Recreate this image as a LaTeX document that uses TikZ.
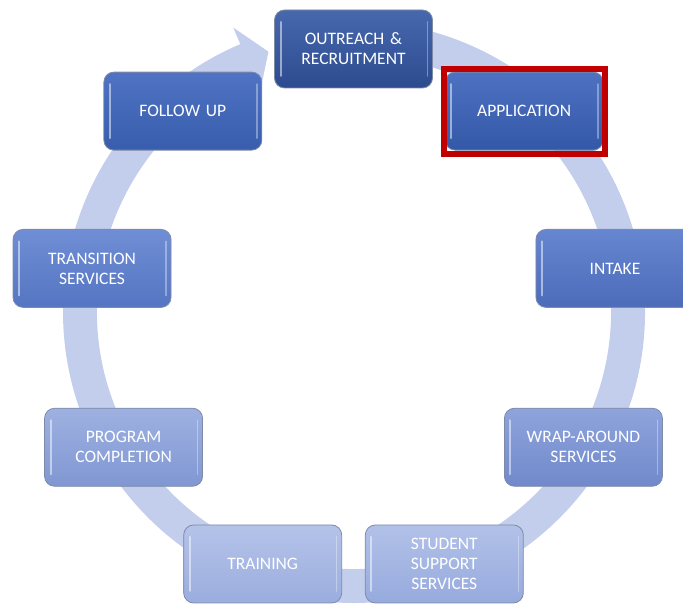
\documentclass[tikz,border=0pt]{standalone}
\usepackage{fontspec}
\setmainfont{Carlito}
\usepackage{xcolor}
\usepackage{tikz}
\usetikzlibrary{shapes,arrows,positioning,calc}

\definecolor{ringblue}{HTML}{C3CDEC}
\definecolor{framered}{HTML}{C00000}
\definecolor{edgegray}{HTML}{7F8AA8}

\begin{document}
\begin{tikzpicture}[x=1pt, y=1pt]
    \tikzstyle{stage} = [rectangle, draw=edgegray, line width=0.8pt, rounded corners=10pt, minimum width=158pt, minimum height=78pt, text width=140pt, align=center, text=white, font=\fontsize{17.5}{20}\selectfont,
        path picture={\draw[white, opacity=0.5, line width=2pt, line cap=round] ([xshift=6pt, yshift=-12pt]path picture bounding box.north west) -- ([xshift=6pt, yshift=12pt]path picture bounding box.south west);
                      \draw[white, opacity=0.35, line width=1.6pt, line cap=round] ([xshift=-5pt, yshift=-12pt]path picture bounding box.north east) -- ([xshift=-5pt, yshift=12pt]path picture bounding box.south east);}]
    \tikzstyle{ring} = [fill=ringblue]
    \tikzstyle{chosen} = [draw=framered, line width=6pt]

    \useasboundingbox (0,0) rectangle (683,603);

    % cycle arrow behind the boxes
    \begin{scope}[shift={(354,291)}]
        \fill [ring] (95:291) arc[start angle=95, end angle=-247, radius=291] -- (-247:309) -- (-251.8:274) -- (-247:240) -- (-247:257) arc[start angle=-247, end angle=95, radius=257] -- cycle;
    \end{scope}

    \begin{scope}[shift={(353.5,288.5)}]
        \node [stage, top color={rgb,255:red,72;green,104;blue,174}, bottom color={rgb,255:red,44;green,75;blue,143}] (outreach) at (90:265.5) {OUTREACH \&\\RECRUITMENT};
        \node [stage, top color={rgb,255:red,78;green,113;blue,193}, bottom color={rgb,255:red,52;green,88;blue,168}] (application) at (50:265.5) {APPLICATION};
        \node [stage, top color={rgb,255:red,102;green,134;blue,208}, bottom color={rgb,255:red,76;green,108;blue,186}] (intake) at (10:265.5) {INTAKE};
        \node [stage, top color={rgb,255:red,142;green,164;blue,219}, bottom color={rgb,255:red,113;green,137;blue,204}] (wrap) at (-30:265.5) {WRAP-AROUND\\SERVICES};
        \node [stage, top color={rgb,255:red,178;green,193;blue,232}, bottom color={rgb,255:red,150;green,170;blue,221}] (support) at (-70:265.5) {STUDENT\\SUPPORT\\SERVICES};
        \node [stage, top color={rgb,255:red,181;green,195;blue,233}, bottom color={rgb,255:red,154;green,173;blue,222}] (training) at (-110:265.5) {TRAINING};
        \node [stage, top color={rgb,255:red,158;green,177;blue,225}, bottom color={rgb,255:red,128;green,151;blue,210}] (completion) at (-150:265.5) {PROGRAM\\COMPLETION};
        \node [stage, top color={rgb,255:red,112;green,142;blue,213}, bottom color={rgb,255:red,84;green,117;blue,194}] (transition) at (170:265.5) {TRANSITION\\SERVICES};
        \node [stage, top color={rgb,255:red,80;green,115;blue,195}, bottom color={rgb,255:red,56;green,93;blue,173}] (followup) at (130:265.5) {FOLLOW UP};
    \end{scope}

    % highlight on the current stage
    \draw [chosen] ([shift={(-1,-3)}]application.south west) rectangle ([shift={(1,3)}]application.north east);
\end{tikzpicture}
\end{document}
